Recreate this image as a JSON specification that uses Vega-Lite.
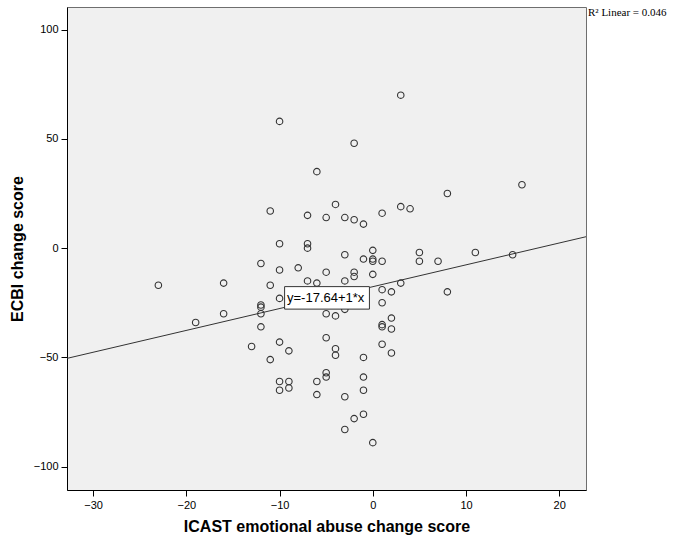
{
  "$schema": "https://vega.github.io/schema/vega-lite/v6.json",
  "autosize": {"type": "none"},
  "padding": {"left": 67, "top": 7, "right": 97, "bottom": 50},
  "width": 519,
  "height": 483,
  "background": "white",
  "config": {
    "view": {"fill": "#F0F0F0", "stroke": "#6E6E6E", "strokeWidth": 1},
    "axis": {
      "grid": false,
      "domainColor": "#000000",
      "tickColor": "#000000",
      "labelColor": "#000000",
      "titleColor": "#000000",
      "labelFont": "Liberation Sans Narrow, Liberation Sans, Arial",
      "labelFontSize": 11,
      "titleFont": "Liberation Sans, Arial",
      "titleFontSize": 16,
      "titleFontWeight": "bold",
      "tickSize": 6
    }
  },
  "datasets": {
    "pts": [
      {"icast": -10, "ecbi": 58}, {"icast": -2, "ecbi": 48}, {"icast": -6, "ecbi": 35}, {"icast": 3, "ecbi": 70},
      {"icast": 16, "ecbi": 29}, {"icast": 8, "ecbi": 25}, {"icast": -11, "ecbi": 17}, {"icast": -7, "ecbi": 15},
      {"icast": -4, "ecbi": 20}, {"icast": -5, "ecbi": 14}, {"icast": -3, "ecbi": 14}, {"icast": -2, "ecbi": 13},
      {"icast": -1, "ecbi": 11}, {"icast": 1, "ecbi": 16}, {"icast": 3, "ecbi": 19}, {"icast": 4, "ecbi": 18},
      {"icast": -10, "ecbi": 2}, {"icast": -7, "ecbi": 2}, {"icast": -7, "ecbi": 0}, {"icast": 0, "ecbi": -1},
      {"icast": -3, "ecbi": -3}, {"icast": -1, "ecbi": -5}, {"icast": 0, "ecbi": -5}, {"icast": 0, "ecbi": -6},
      {"icast": 1, "ecbi": -6}, {"icast": 5, "ecbi": -2}, {"icast": 5, "ecbi": -6}, {"icast": 7, "ecbi": -6},
      {"icast": 11, "ecbi": -2}, {"icast": 15, "ecbi": -3}, {"icast": -12, "ecbi": -7}, {"icast": -10, "ecbi": -10},
      {"icast": -8, "ecbi": -9}, {"icast": -5, "ecbi": -11}, {"icast": -2, "ecbi": -11}, {"icast": -2, "ecbi": -13},
      {"icast": 0, "ecbi": -12}, {"icast": -7, "ecbi": -15}, {"icast": -6, "ecbi": -16}, {"icast": -3, "ecbi": -15},
      {"icast": -11, "ecbi": -17}, {"icast": -16, "ecbi": -16}, {"icast": -23, "ecbi": -17}, {"icast": 1, "ecbi": -19},
      {"icast": 2, "ecbi": -20}, {"icast": 3, "ecbi": -16}, {"icast": 8, "ecbi": -20}, {"icast": -10, "ecbi": -23},
      {"icast": -12, "ecbi": -26}, {"icast": -12, "ecbi": -27}, {"icast": -16, "ecbi": -30}, {"icast": -19, "ecbi": -34},
      {"icast": -12, "ecbi": -30}, {"icast": -12, "ecbi": -36}, {"icast": 1, "ecbi": -25}, {"icast": -3, "ecbi": -28},
      {"icast": -5, "ecbi": -30}, {"icast": -4, "ecbi": -31}, {"icast": 2, "ecbi": -32}, {"icast": 1, "ecbi": -35},
      {"icast": 1, "ecbi": -36}, {"icast": 2, "ecbi": -37}, {"icast": -5, "ecbi": -41}, {"icast": -10, "ecbi": -43},
      {"icast": 1, "ecbi": -44}, {"icast": -13, "ecbi": -45}, {"icast": -4, "ecbi": -46}, {"icast": -9, "ecbi": -47},
      {"icast": -4, "ecbi": -49}, {"icast": 2, "ecbi": -48}, {"icast": -1, "ecbi": -50}, {"icast": -11, "ecbi": -51},
      {"icast": -5, "ecbi": -57}, {"icast": -5, "ecbi": -59}, {"icast": -1, "ecbi": -59}, {"icast": -10, "ecbi": -61},
      {"icast": -9, "ecbi": -61}, {"icast": -6, "ecbi": -61}, {"icast": -10, "ecbi": -65}, {"icast": -9, "ecbi": -64},
      {"icast": -1, "ecbi": -65}, {"icast": -6, "ecbi": -67}, {"icast": -3, "ecbi": -68}, {"icast": -1, "ecbi": -76},
      {"icast": -2, "ecbi": -78}, {"icast": -3, "ecbi": -83}, {"icast": 0, "ecbi": -89}
    ],
    "fit": [
      {"icast": -32.8, "ecbi": -50.44},
      {"icast": 22.87, "ecbi": 5.23}
    ],
    "box": [
      {"x1": -9.46, "x2": -0.36, "y1": -17.6, "y2": -27.9, "tx": -9.2, "ty": -22.7, "label": "y=-17.64+1*x"}
    ],
    "rsq": [
      {"icast": 22.87, "ecbi": 110.35, "label": "R² Linear = 0.046"}
    ]
  },
  "layer": [
    {
      "data": {"name": "fit"},
      "mark": {"type": "line", "color": "#333333", "strokeWidth": 1, "clip": true},
      "encoding": {
        "x": {"field": "icast", "type": "quantitative",
          "scale": {"domain": [-32.8, 22.87], "nice": false, "zero": false},
          "axis": {"values": [-30, -20, -10, 0, 10, 20], "title": "ICAST emotional abuse change score", "labelPadding": 3, "titleY": 28, "titleBaseline": "top"}},
        "y": {"field": "ecbi", "type": "quantitative",
          "scale": {"domain": [-110.67, 110.35], "nice": false, "zero": false},
          "axis": {"values": [-100, -50, 0, 50, 100], "title": "ECBI change score", "labelPadding": 3, "titleX": -50, "titleBaseline": "middle"}}
      }
    },
    {
      "data": {"name": "pts"},
      "mark": {"type": "point", "shape": "circle", "filled": false, "stroke": "#333333", "strokeWidth": 1.1, "size": 42, "opacity": 1},
      "encoding": {
        "x": {"field": "icast", "type": "quantitative"},
        "y": {"field": "ecbi", "type": "quantitative"}
      }
    },
    {
      "data": {"name": "box"},
      "mark": {"type": "rect", "fill": "white", "stroke": "#333333", "strokeWidth": 1},
      "encoding": {
        "x": {"field": "x1", "type": "quantitative"},
        "x2": {"field": "x2"},
        "y": {"field": "y1", "type": "quantitative"},
        "y2": {"field": "y2"}
      }
    },
    {
      "data": {"name": "box"},
      "mark": {"type": "text", "align": "left", "baseline": "middle", "font": "Liberation Sans, Arial", "fontSize": 13, "color": "#000000"},
      "encoding": {
        "x": {"field": "tx", "type": "quantitative"},
        "y": {"field": "ty", "type": "quantitative"},
        "text": {"field": "label"}
      }
    },
    {
      "data": {"name": "rsq"},
      "mark": {"type": "text", "align": "left", "baseline": "middle", "dx": 2, "dy": 6, "font": "Liberation Serif, Times New Roman", "fontSize": 11, "color": "#000000"},
      "encoding": {
        "x": {"field": "icast", "type": "quantitative"},
        "y": {"field": "ecbi", "type": "quantitative"},
        "text": {"field": "label"}
      }
    }
  ]
}
